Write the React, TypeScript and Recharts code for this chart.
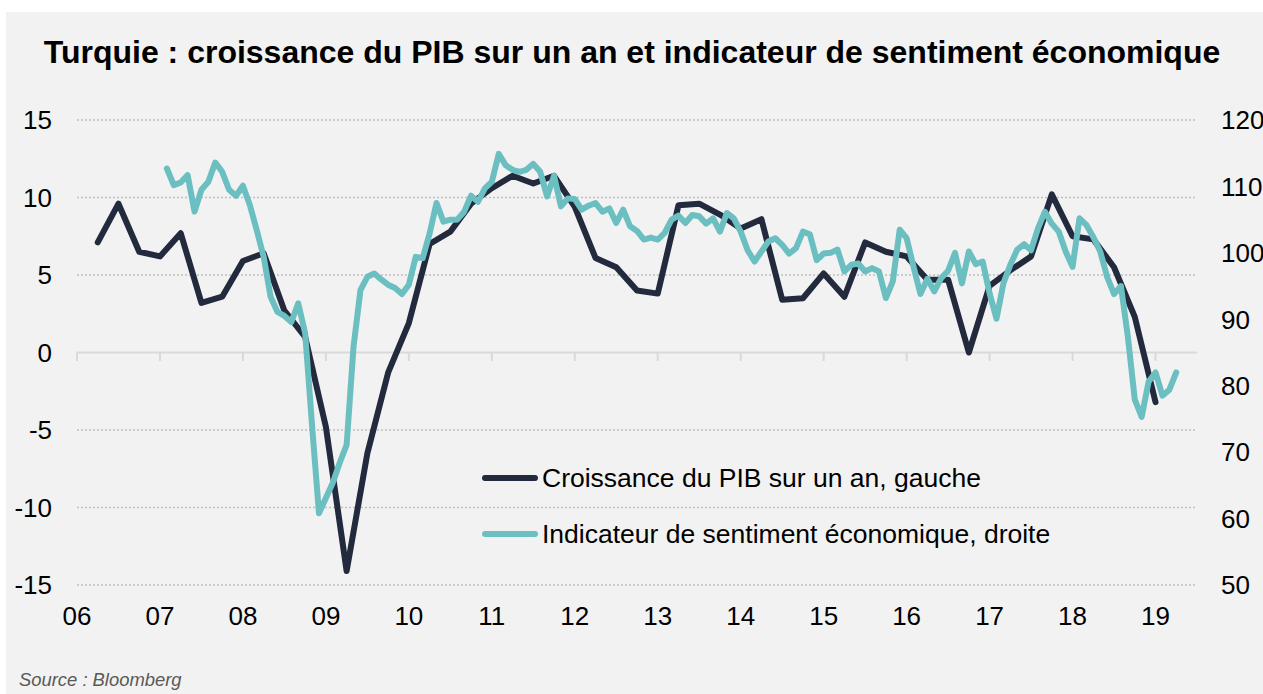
import React from 'react'
import { LineChart, Line, XAxis, YAxis, ReferenceLine, Legend } from 'recharts'

// Croissance du PIB sur un an (%), trimestriel, à partir de 2006 T1 (placé à 2006.25)
const gdpStart = 2006.25
const gdpValues = [
  7.1, 9.6, 6.5, 6.2,
  7.7, 3.2, 3.6, 5.9,
  6.4, 2.7, 1.0, -4.8,
  -14.1, -6.5, -1.3, 1.9,
  7.0, 7.8, 9.6, 10.6,
  11.4, 10.9, 11.4, 9.4,
  6.1, 5.5, 4.0, 3.8,
  9.5, 9.6, 8.9, 8.0,
  8.6, 3.4, 3.5, 5.1,
  3.6, 7.1, 6.5, 6.2,
  4.7, 4.7, 0.0, 4.3,
  5.3, 6.2, 10.2, 7.5,
  7.3, 5.5, 2.3, -3.2,
]

// Indicateur de sentiment économique, mensuel, à partir de février 2007
const esiStart = 2007 + 1 / 12
const esiValues = [
  // 2007 (fév-déc)
  112.7, 110.2, 110.6, 111.7, 106.2, 109.5, 110.7, 113.6, 112.2, 109.5, 108.6,
  // 2008
  110.1, 107.2, 103.4, 99.4, 93.4, 91.1, 90.5, 89.6, 92.4, 87.9, 74.0, 60.8,
  // 2009
  63.1, 65.4, 68.4, 71.1, 85.9, 94.4, 96.4, 96.9, 96.0, 95.2, 94.7, 93.8,
  // 2010
  95.2, 99.4, 99.2, 102.9, 107.5, 104.7, 105.0, 105.0, 106.2, 108.6, 107.7, 109.7,
  // 2011
  110.7, 114.9, 113.2, 112.5, 112.2, 112.5, 113.4, 112.2, 108.5, 111.6, 107.0, 108.2,
  // 2012
  108.1, 106.5, 107.1, 107.5, 106.2, 106.7, 104.5, 106.5, 104.0, 103.3, 102.0, 102.3,
  // 2013
  102.0, 103.0, 105.0, 105.6, 104.5, 105.7, 105.5, 104.4, 105.2, 103.2, 106.0, 105.2,
  // 2014
  103.2, 100.4, 98.7, 100.2, 101.7, 102.2, 101.2, 99.9, 100.7, 103.2, 102.8, 98.9,
  // 2015
  99.9, 100.0, 100.5, 97.2, 98.2, 98.4, 97.2, 97.7, 97.2, 93.2, 95.7, 103.5,
  // 2016
  102.2, 97.9, 93.8, 96.1, 94.2, 96.2, 97.3, 100.0, 95.4, 100.2, 98.3, 98.7,
  // 2017
  93.9, 90.1, 95.4, 98.2, 100.5, 101.3, 100.4, 103.7, 106.2, 104.4, 103.2, 100.2,
  // 2018
  97.9, 105.2, 104.2, 102.4, 100.2, 96.4, 93.8, 95.0, 87.4, 77.9, 75.3, 80.6,
  // 2019 (jan-avr)
  82.0, 78.5, 79.4, 82.0,
]

const yearTicks = [2006, 2007, 2008, 2009, 2010, 2011, 2012, 2013, 2014, 2015, 2016, 2017, 2018, 2019]
const leftTicks = [-15, -10, -5, 0, 5, 10, 15]
const rightTicks = [50, 60, 70, 80, 90, 100, 110, 120]

const gdpData = gdpValues.map((v, i) => ({ t: gdpStart + i * 0.25, v }))
const esiData = esiValues.map((v, i) => ({ t: esiStart + i / 12, v }))

const DARK = '#232a3e'
const TEAL = '#6cbfc1'
const FONT = '"Liberation Sans", Arial, sans-serif'

const tickStyle = { fontSize: 26, fill: '#000', fontFamily: FONT }

const LegendContent = ({ payload }: any) => (
  <div style={{ fontFamily: FONT, fontSize: 26.5, color: '#000' }}>
    {(payload || []).map((entry: any, index: number) => (
      <div key={index} style={{ display: 'flex', alignItems: 'center', height: 56, lineHeight: '56px' }}>
        <div style={{ width: 56, height: 5.5, borderRadius: 3, backgroundColor: entry.color, marginRight: 4 }} />
        <span style={{ whiteSpace: 'nowrap' }}>{entry.value}</span>
      </div>
    ))}
  </div>
)

export default function App() {
  return (
    <div style={{ position: 'absolute', left: 0, top: 0, width: 1263, height: 694, background: '#fff', overflow: 'hidden' }}>
      <div style={{ position: 'absolute', left: 6, top: 12, width: 1257, height: 682, background: '#f2f2f2' }} />
      <div
        style={{
          position: 'absolute',
          left: 0,
          width: 1264,
          top: 36,
          textAlign: 'center',
          fontFamily: FONT,
          fontWeight: 'bold',
          fontSize: 32,
          lineHeight: '32px',
          color: '#000',
          whiteSpace: 'nowrap',
        }}
      >
        Turquie : croissance du PIB sur un an et indicateur de sentiment économique
      </div>
      <div
        style={{
          position: 'absolute',
          left: 19,
          top: 670,
          fontFamily: FONT,
          fontStyle: 'italic',
          fontSize: 18.4,
          lineHeight: '20px',
          color: '#595959',
        }}
      >
        Source : Bloomberg
      </div>
      <div style={{ position: 'absolute', left: 0, top: 0 }}>
        <LineChart width={1263} height={694} margin={{ top: 120, right: 6, bottom: 79, left: 17 }}>
          <XAxis
            dataKey="t"
            type="number"
            domain={[2006, 2019.5]}
            ticks={yearTicks}
            allowDataOverflow
            axisLine={false}
            tickLine={false}
            tickSize={0}
            tickMargin={22}
            height={30}
            interval={0}
            tick={tickStyle}
            tickFormatter={(yr: number) => String(yr % 100).padStart(2, '0')}
          />
          <YAxis
            yAxisId="left"
            orientation="left"
            domain={[-15, 15]}
            ticks={leftTicks}
            axisLine={false}
            tickLine={false}
            tickSize={0}
            tickMargin={25}
            width={60}
            interval={0}
            tick={tickStyle}
          />
          <YAxis
            yAxisId="right"
            orientation="right"
            domain={[50, 120]}
            ticks={rightTicks}
            axisLine={false}
            tickLine={false}
            tickSize={0}
            tickMargin={24}
            width={60}
            interval={0}
            tick={{ ...tickStyle, textAnchor: 'start' }}
          />

          {leftTicks.filter(v => v !== 0).map(v => (
            <ReferenceLine
              key={'g' + v}
              yAxisId="left"
              y={v}
              stroke="#bfbfbf"
              strokeWidth={1.5}
              strokeDasharray="2 2"
            />
          ))}
          <ReferenceLine yAxisId="left" y={0} stroke="#d9d9d9" strokeWidth={2} />
          {yearTicks.map(yr => (
            <ReferenceLine
              key={'t' + yr}
              yAxisId="left"
              segment={[{ x: yr, y: 0 }, { x: yr, y: -0.55 }]}
              stroke="#d9d9d9"
              strokeWidth={2}
            />
          ))}

          <Legend
            layout="vertical"
            verticalAlign="middle"
            align="center"
            content={<LegendContent />}
            wrapperStyle={{ left: 482, top: 450, width: 600 }}
          />

          <Line
            yAxisId="left"
            data={gdpData}
            dataKey="v"
            name="Croissance du PIB sur un an, gauche"
            stroke={DARK}
            strokeWidth={6}
            strokeLinejoin="round"
            strokeLinecap="round"
            dot={false}
            activeDot={false}
            isAnimationActive={false}
          />
          <Line
            yAxisId="right"
            data={esiData}
            dataKey="v"
            name="Indicateur de sentiment économique, droite"
            stroke={TEAL}
            strokeWidth={6}
            strokeLinejoin="round"
            strokeLinecap="round"
            dot={false}
            activeDot={false}
            isAnimationActive={false}
          />
        </LineChart>
      </div>
    </div>
  )
}
